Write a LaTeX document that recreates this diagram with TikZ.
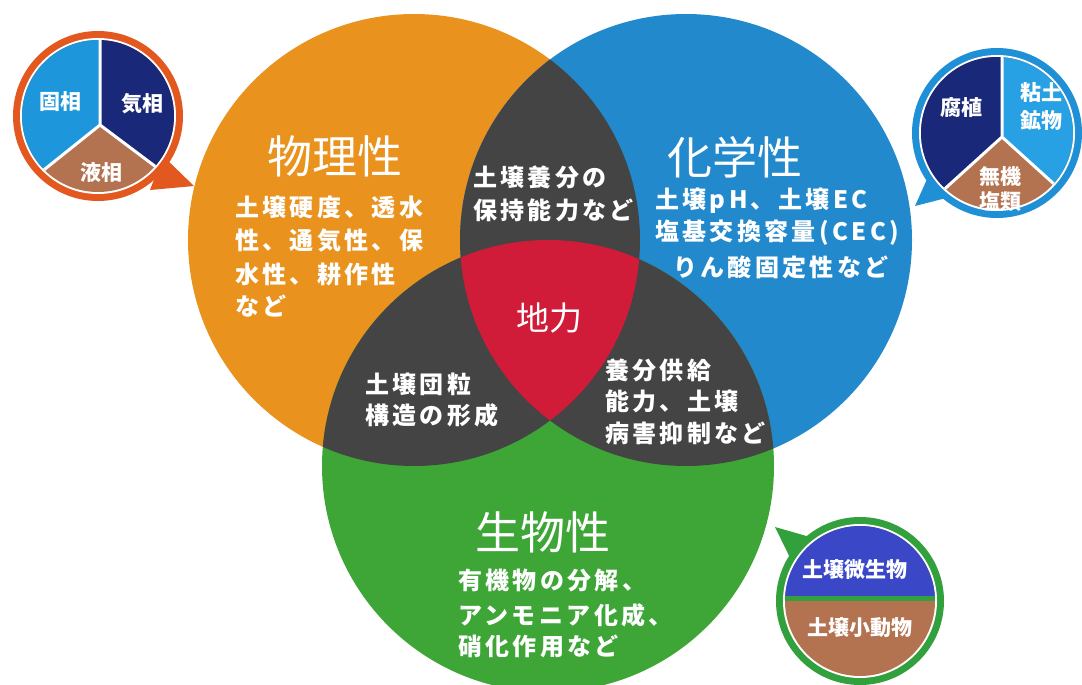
\documentclass[tikz,border=0pt]{standalone}
\usepackage{fontspec}
\newfontfamily\jp{Noto Sans CJK JP}
\newfontfamily\jpsp[LetterSpace=14]{Noto Sans CJK JP}
\definecolor{cOrange}{RGB}{233,146,30}
\definecolor{cBlue}{RGB}{34,137,204}
\definecolor{cGreen}{RGB}{62,165,55}
\definecolor{cDark}{RGB}{68,68,68}
\definecolor{cRed}{RGB}{208,28,56}
\definecolor{cRingA}{RGB}{226,88,30}
\definecolor{cLBlue}{RGB}{30,150,220}
\definecolor{cNavy}{RGB}{25,40,120}
\definecolor{cBrown}{RGB}{180,115,80}
\definecolor{cRingB}{RGB}{32,144,214}
\definecolor{cLBlueB}{RGB}{40,160,228}
\definecolor{cRingC}{RGB}{50,160,60}
\definecolor{cMBlue}{RGB}{58,72,200}
\begin{document}
\begin{tikzpicture}[x=1pt,y=-1pt,
  body/.style={text=white, inner sep=0pt, anchor=west, font=\jpsp\bfseries\fontsize{24}{28}\selectfont},
  title/.style={text=white, inner sep=0pt, font=\jp\fontsize{45}{50}\selectfont},
  core/.style={text=white, inner sep=0pt, font=\jp\fontsize{33}{36}\selectfont},
  pielabel/.style={text=white, inner sep=0pt, font=\jp\bfseries\fontsize{21}{24}\selectfont},
  divider/.style={white, line width=3pt}]
\fill[white] (0,0) rectangle (1082,685);
\useasboundingbox (0,0) rectangle (1082,685);
% Venn circles
\coordinate (O) at (414,240);
\coordinate (B) at (686,240);
\coordinate (G) at (548,466);
\fill[cOrange] (O) circle (226pt);
\fill[cBlue] (B) circle (226pt);
\fill[cGreen] (G) circle (226pt);
\begin{scope}
  \clip (O) circle (226pt);
  \fill[cDark] (B) circle (226pt);
  \fill[cDark] (G) circle (226pt);
\end{scope}
\begin{scope}
  \clip (B) circle (226pt);
  \fill[cDark] (G) circle (226pt);
\end{scope}
\begin{scope}
  \clip (O) circle (226pt);
  \clip (B) circle (226pt);
  \fill[cRed] (G) circle (226pt);
\end{scope}
% texts
\node[title] (tPhys) at (335,156) {物理性};
\node[title] (tChem) at (735,157) {化学性};
\node[title] (tBio) at (543,532) {生物性};
\node[core] (tCore) at (549,318) {地力};
\node[body] (p1) at (235,207) {土壌硬度、透水};
\node[body] (p2) at (235,241) {性、通気性、保};
\node[body] (p3) at (235,274) {水性、耕作性};
\node[body] (p4) at (235,306) {など};
\node[body] (op1) at (473,177) {土壌養分の};
\node[body] (op2) at (473,210) {保持能力など};
\node[body] (c1) at (655,201) {土壌pH、土壌EC};
\node[body] (c2) at (655,233) {塩基交換容量(CEC)};
\node[body] (c3) at (673,267) {りん酸固定性など};
\node[body] (og1) at (365,384) {土壌団粒};
\node[body] (og2) at (365,415) {構造の形成};
\node[body] (bg1) at (605,370) {養分供給};
\node[body] (bg2) at (605,401) {能力、土壌};
\node[body] (bg3) at (605,433) {病害抑制など};
\node[body] (g1) at (458,580) {有機物の分解、};
\node[body] (g2) at (458,615) {アンモニア化成、};
\node[body] (g3) at (458,646) {硝化作用など};
% left pie
\coordinate (LC) at (98,116);
\coordinate (LJ) at (100,125);
\fill[cRingA] (163,156) -- (194,186) -- (150,190) -- cycle;
\fill[cRingA] (LC) circle (85pt);
\fill[white] (LC) circle (78pt);
\begin{scope}
  \clip (LC) circle (76pt);
  \fill[cBrown] (LC) circle (80pt);
  \fill[cLBlue] (LJ) -- (100,-60) -- (-100,-60) -- (-100,285) -- cycle;
  \fill[cNavy] (LJ) -- (100,-60) -- (300,-60) -- (300,275) -- cycle;
  \draw[divider] (100,-60) -- (LJ) -- (-100,285) (LJ) -- (300,275);
\end{scope}
\node[pielabel] (lk1) at (60,102) {固相};
\node[pielabel] (lk2) at (142,104) {気相};
\node[pielabel] (lk3) at (101,173) {液相};
% right pie
\coordinate (RC) at (997,133);
\coordinate (RJ) at (1002,137);
\fill[cRingB] (932,168) -- (915,206) -- (954,196) -- cycle;
\fill[cRingB] (RC) circle (85pt);
\fill[white] (RC) circle (78pt);
\begin{scope}
  \clip (RC) circle (76pt);
  \fill[cBrown] (RC) circle (80pt);
  \fill[cNavy] (RJ) -- (1002,-60) -- (800,-60) -- (800,320) -- cycle;
  \fill[cLBlueB] (RJ) -- (1002,-60) -- (1200,-60) -- (1200,316) -- cycle;
  \draw[divider] (1002,-60) -- (RJ) -- (800,320) (RJ) -- (1200,316);
\end{scope}
\node[pielabel] (rk1) at (961,108) {腐植};
\node[pielabel] (rk2) at (1041,93) {粘土};
\node[pielabel] (rk3) at (1041,121) {鉱物};
\node[pielabel] (rk4) at (1000,177) {無機};
\node[pielabel] (rk5) at (1000,201) {塩類};
% bottom-right circle
\coordinate (BC) at (860,601);
\fill[cRingC] (775,527) -- (824,541) -- (797,572) -- cycle;
\fill[cRingC] (BC) circle (84pt);
\fill[white] (BC) circle (77pt);
\begin{scope}
  \clip (BC) circle (75pt);
  \fill[cBrown] (BC) circle (80pt);
  \fill[cMBlue] (700,400) rectangle (1000,598);
  \draw[cRingC, line width=5pt] (700,598) -- (1000,598);
\end{scope}
\node[pielabel] (bk1) at (855,570) {土壌微生物};
\node[pielabel] (bk2) at (860,628) {土壌小動物};
\end{tikzpicture}
\end{document}
